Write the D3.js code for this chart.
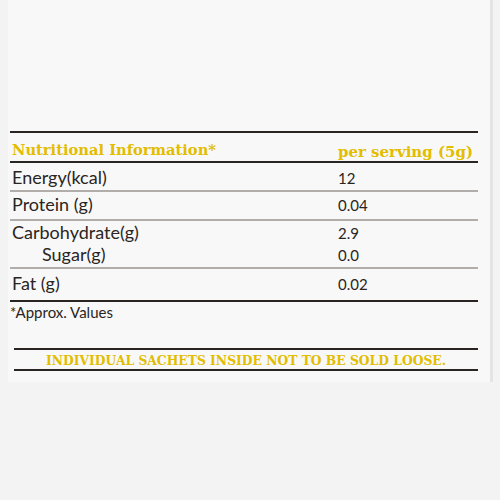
<!DOCTYPE html>
<html><head><meta charset="utf-8">
<script src="https://cdn.jsdelivr.net/npm/d3@7"></script>
<style>body{margin:0;background:#fff}</style>
</head><body>
<svg id="c" width="500" height="500"></svg>
<script>
// table contents
const nutrients = ["Energy(kcal)", "Protein (g)", "Carbohydrate(g)", "Sugar(g)", "Fat (g)"];
const values = ["12", "0.04", "2.9", "0.0", "0.02"];
const indent = [0, 0, 0, 1, 0];
const baselines = [184, 211, 239, 261, 290];
const ruleYs = [162, 191, 220, 268];

const yellow = "#e2bd00", ink = "#2a2522";
const svg = d3.select("#c");
svg.append("rect").attr("width", 500).attr("height", 500).attr("fill", "#f3f3f3");
svg.append("rect").attr("x", 8).attr("y", 0).attr("width", 484).attr("height", 382).attr("fill", "#f8f8f8");
svg.append("rect").attr("x", 490).attr("y", 0).attr("width", 3).attr("height", 382).attr("fill", "#e4e4e4");

const line = (y, w, x1 = 10, x2 = 478) => svg.append("line")
  .attr("x1", x1).attr("x2", x2).attr("y1", y).attr("y2", y)
  .attr("stroke", ink).attr("stroke-width", w);

line(132, 2.2);
line(162, 2);
ruleYs.slice(1).forEach(y => line(y, 1).attr("stroke", "#6b625c"));
line(301, 2);
line(349, 1.8, 14, 478);
line(370, 1.8, 14, 478);

const serif = "'DejaVu Serif', serif", sans = "Lato, 'Open Sans', sans-serif";
svg.append("text").attr("x", 12).attr("y", 155).text("Nutritional Information*")
  .attr("fill", yellow).attr("font-family", serif).attr("font-weight", "bold")
  .attr("font-size", 15).attr("textLength", 204).attr("lengthAdjust", "spacingAndGlyphs");
svg.append("text").attr("x", 338).attr("y", 157).text("per serving (5g)")
  .attr("fill", yellow).attr("font-family", serif).attr("font-weight", "bold")
  .attr("font-size", 15).attr("textLength", 135).attr("lengthAdjust", "spacingAndGlyphs");

const rows = svg.selectAll("g.row").data(nutrients).join("g").attr("class", "row");
rows.append("text").attr("x", (d, i) => indent[i] ? 42 : 12).attr("y", (d, i) => baselines[i])
  .text(d => d).attr("fill", ink).attr("font-family", sans).attr("font-size", 18);
rows.append("text").attr("x", 338).attr("y", (d, i) => baselines[i])
  .text((d, i) => values[i]).attr("fill", ink).attr("font-family", sans).attr("font-size", 15);

svg.append("text").attr("x", 10).attr("y", 318).text("*Approx. Values")
  .attr("fill", ink).attr("font-family", sans).attr("font-size", 15);
svg.append("text").attr("x", 246).attr("y", 365).attr("text-anchor", "middle")
  .text("INDIVIDUAL SACHETS INSIDE NOT TO BE SOLD LOOSE.")
  .attr("fill", yellow).attr("font-family", serif).attr("font-weight", "bold")
  .attr("font-size", 12).attr("textLength", 400).attr("lengthAdjust", "spacingAndGlyphs");
</script>
</body></html>
